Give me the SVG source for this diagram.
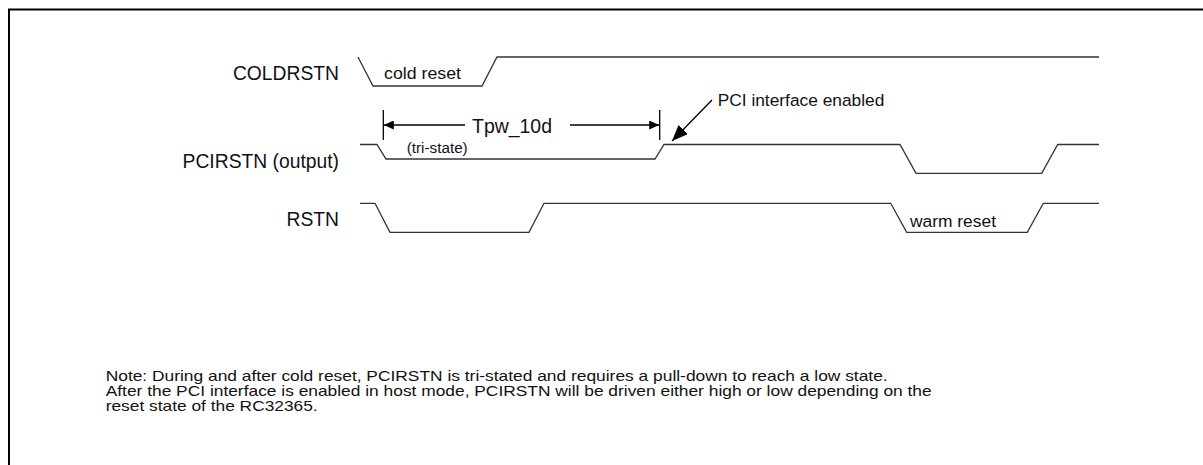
<svg xmlns="http://www.w3.org/2000/svg" width="1203" height="465" viewBox="0 0 1203 465">
<style>
text{font-family:"Liberation Sans",Arial,sans-serif;fill:#111}
.lbl{font-size:19.3px;text-anchor:end}
.sm{font-size:17.4px}
.nt{font-size:15px}
.wave{fill:none;stroke:#333;stroke-width:1.3;stroke-linejoin:miter}
.dim{fill:none;stroke:#000;stroke-width:1.3}
</style>
<defs>
<marker id="ah" markerUnits="userSpaceOnUse" markerWidth="11" markerHeight="9" refX="10" refY="4.5" orient="auto">
<path d="M0,0 L10,4.5 L0,9 Z" fill="#000"/>
</marker>
<marker id="ahBig" markerUnits="userSpaceOnUse" markerWidth="17" markerHeight="13" refX="16" refY="6.5" orient="auto">
<path d="M0,0 L16,6.5 L0,13 Z" fill="#000"/>
</marker>
</defs>
<rect x="0" y="0" width="1203" height="465" fill="#fff"/>
<rect id="frame" x="9" y="9.5" width="1300" height="600" fill="none" stroke="#000" stroke-width="2"/>

<g id="coldrstn">
<text class="lbl" x="339" y="80">COLDRSTN</text>
<path class="wave" d="M358,57 L373,86 L482,86 L497,57 L1099,57"/>
<text class="sm" x="384" y="79" textLength="77" lengthAdjust="spacingAndGlyphs">cold reset</text>
</g>

<g id="pcirstn">
<text class="lbl" x="339" y="167.7">PCIRSTN (output)</text>
<path class="wave" d="M360,144.5 L377,144.5 L386,159 L655,159 L664,144.5 L900,144.5 L916,173.3 L1041.7,173.3 L1057.7,144.5 L1099,144.5"/>
<text x="406.7" y="153.3" font-size="15.2" textLength="61" lengthAdjust="spacingAndGlyphs">(tri-state)</text>
</g>

<g id="rstn">
<text class="lbl" x="339" y="226">RSTN</text>
<path class="wave" d="M360,203.3 L375,203.3 L390,232.3 L529,232.3 L544,203.3 L890.7,203.3 L906.7,232.3 L1027.3,232.3 L1043.3,203.3 L1099,203.3"/>
<text class="sm" x="910" y="226.7" textLength="86" lengthAdjust="spacingAndGlyphs">warm reset</text>
</g>

<g id="connectors">
<line class="dim" x1="383.3" y1="110" x2="383.3" y2="140"/>
<line class="dim" x1="659.7" y1="110" x2="659.7" y2="140"/>
<line class="dim" x1="465" y1="125" x2="383.8" y2="125" marker-end="url(#ah)"/>
<line class="dim" x1="570" y1="125" x2="659.2" y2="125" marker-end="url(#ah)"/>
<line class="dim" x1="712" y1="100" x2="672" y2="141" marker-end="url(#ahBig)"/>
</g>

<g id="annotations">
<text x="472" y="132.7" font-size="20.5" textLength="80" lengthAdjust="spacingAndGlyphs">Tpw_10d</text>
<text class="sm" x="717.7" y="106" textLength="166.6" lengthAdjust="spacingAndGlyphs">PCI interface enabled</text>
</g>

<g id="note">
<text class="nt" x="105.7" y="380.7" textLength="782" lengthAdjust="spacingAndGlyphs">Note: During and after cold reset, PCIRSTN is tri-stated and requires a pull-down to reach a low state.</text>
<text class="nt" x="105.7" y="396" textLength="826" lengthAdjust="spacingAndGlyphs">After the PCI interface is enabled in host mode, PCIRSTN will be driven either high or low depending on the</text>
<text class="nt" x="105.7" y="411.3" textLength="212" lengthAdjust="spacingAndGlyphs">reset state of the RC32365.</text>
</g>
</svg>
